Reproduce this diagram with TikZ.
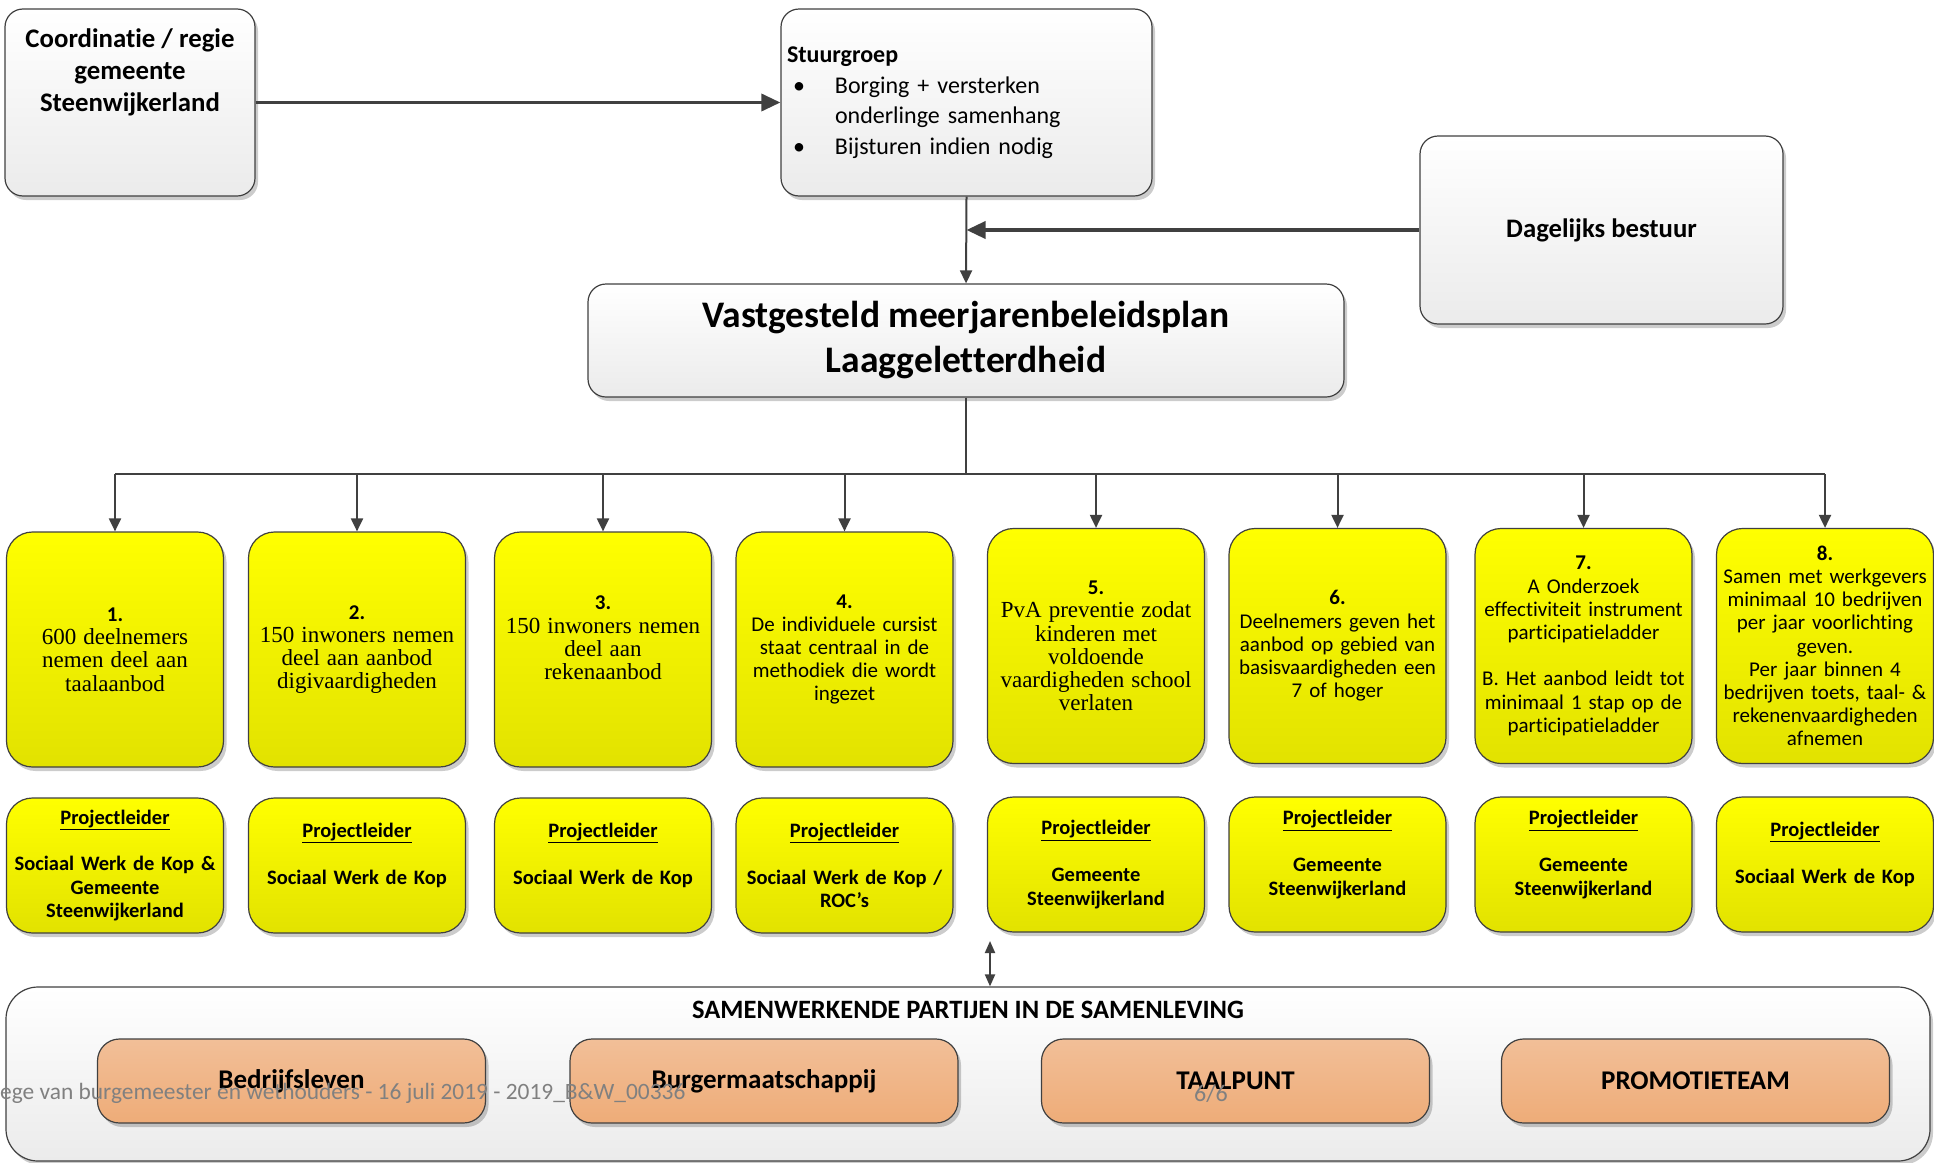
\documentclass[tikz,border=0pt]{standalone}
\usepackage{fontspec}
\setmainfont{Carlito}[Ligatures=NoCommon]
\newfontfamily\timesfont{Liberation Serif}
\usetikzlibrary{arrows.meta}
\usetikzlibrary{shadows}
\definecolor{edge}{HTML}{404040}
\definecolor{paleBot}{HTML}{EBEBEB}
\definecolor{yelTop}{HTML}{FFFF00}
\definecolor{yelBot}{HTML}{E2E200}
\definecolor{orTop}{HTML}{F2BF98}
\definecolor{orBot}{HTML}{EEAC78}
\newcommand{\serif}[1]{{\timesfont\fontsize{23}{23.3}\selectfont #1}}
\tikzstyle{softshadow}=[drop shadow={opacity=0.2,fill=black,shadow xshift=3pt,shadow yshift=-4pt}]
\tikzstyle{panel}=[draw=edge, line width=1.2pt, rounded corners=18pt, top color=white, bottom color=paleBot, softshadow, align=center, inner sep=0pt]
\tikzstyle{goal}=[panel, rounded corners=26pt, top color=yelTop, bottom color=yelBot, minimum width=217pt, minimum height=235pt, text width=205pt, font=\fontsize{21}{23.2}\selectfont]
\tikzstyle{lead}=[goal, minimum height=135pt, font=\bfseries\fontsize{20.5}{23.4}\selectfont]
\tikzstyle{party}=[panel, rounded corners=22pt, top color=orTop, bottom color=orBot, minimum width=388pt, minimum height=84pt, font=\bfseries\fontsize{27}{30}\selectfont]
\tikzstyle{link}=[draw=edge, line width=2pt, -{Triangle[length=13pt,width=12pt]}]
\tikzstyle{heavy}=[link, line width=3.5pt, -{Triangle[length=19pt,width=17pt]}]
\tikzstyle{both}=[link, {Triangle[length=12pt,width=10pt]}-{Triangle[length=12pt,width=10pt]}]
\tikzstyle{busline}=[draw=edge, line width=2.5pt]

\begin{document}
\begin{tikzpicture}[x=1pt, y=-1pt]
  \useasboundingbox (0,0) rectangle (1934,1162);

  \node[panel, minimum width=250pt, minimum height=187pt, font=\bfseries\fontsize{26.8}{32}\selectfont]
    (regie) at (130,102.5) {Coordinatie / regie\\gemeente\\Steenwijkerland\\\mbox{}\\\mbox{}};
  \node[panel, minimum width=371pt, minimum height=187pt, text width=359pt, align=left, font=\fontsize{24}{30.5}\selectfont]
    (stuur) at (966.5,102.5) {\textbf{Stuurgroep}\\
      \hspace*{6pt}\makebox[42pt][l]{\textbullet}Borging + versterken\\
      \hspace*{48pt}onderlinge samenhang\\
      \hspace*{6pt}\makebox[42pt][l]{\textbullet}Bijsturen indien nodig};
  \node[panel, minimum width=363pt, minimum height=188pt, font=\bfseries\fontsize{26.7}{30}\selectfont]
    (bestuur) at (1601.5,230) {Dagelijks bestuur};
  \node[panel, minimum width=756pt, minimum height=113pt, font=\bfseries\fontsize{37.5}{45}\selectfont]
    (plan) at (966,340.5) {Vastgesteld meerjarenbeleidsplan\\Laaggeletterdheid};

  \node[goal] (goal1) at (115,649.5) {\textbf{1.}\\\serif{600 deelnemers\\nemen deel aan\\taalaanbod}};
  \node[goal] (goal2) at (357,649.5) {\textbf{2.}\\\serif{150 inwoners nemen\\deel aan aanbod\\digivaardigheden}};
  \node[goal] (goal3) at (603,649.5) {\textbf{3.}\\\serif{150 inwoners nemen\\deel aan\\rekenaanbod}\\\mbox{}};
  \node[goal] (goal4) at (844.5,649.5) {\textbf{4.}\\De individuele cursist\\staat centraal in de\\methodiek die wordt\\ingezet};
  \node[goal] (goal5) at (1096,646) {\textbf{5.}\\\serif{PvA preventie zodat\\kinderen met\\voldoende\\vaardigheden school\\verlaten}};
  \node[goal] (goal6) at (1337.5,646) {\textbf{6.}\\Deelnemers geven het\\aanbod op gebied van\\basisvaardigheden een\\7 of hoger};
  \node[goal] (goal7) at (1583.5,646) {\textbf{7.}\\A Onderzoek\\effectiviteit instrument\\participatieladder\\\mbox{}\\B. Het aanbod leidt tot\\minimaal 1 stap op de\\participatieladder};
  \node[goal] (goal8) at (1825,646) {\textbf{8.}\\Samen met werkgevers\\minimaal 10 bedrijven\\per jaar voorlichting\\geven.\\Per jaar binnen 4\\bedrijven toets, taal- \&\\rekenenvaardigheden\\afnemen};

  \node[lead] (lead1) at (115,865.5) {\underline{Projectleider}\\\mbox{}\\Sociaal Werk de Kop \&\\Gemeente\\Steenwijkerland};
  \node[lead] (lead2) at (357,865.5) {\underline{Projectleider}\\\mbox{}\\Sociaal Werk de Kop\\\mbox{}};
  \node[lead] (lead3) at (603,865.5) {\underline{Projectleider}\\\mbox{}\\Sociaal Werk de Kop\\\mbox{}};
  \node[lead] (lead4) at (844.5,865.5) {\underline{Projectleider}\\\mbox{}\\Sociaal Werk de Kop /\\ROC’s};
  \node[lead] (lead5) at (1096,864.5) {\underline{Projectleider}\\\mbox{}\\Gemeente\\Steenwijkerland};
  \node[lead] (lead6) at (1337.5,864.5) {\underline{Projectleider}\\\mbox{}\\Gemeente\\Steenwijkerland\\\mbox{}};
  \node[lead] (lead7) at (1583.5,864.5) {\underline{Projectleider}\\\mbox{}\\Gemeente\\Steenwijkerland\\\mbox{}};
  \node[lead] (lead8) at (1825,864.5) {\underline{Projectleider}\\\mbox{}\\Sociaal Werk de Kop\\\mbox{}};

  \node[panel, rounded corners=32pt, minimum width=1924pt, minimum height=174pt] (partijen) at (968,1074) {};
  \node[font=\bfseries\fontsize{26.5}{30}\selectfont] (titel) at (968,1010) {SAMENWERKENDE PARTIJEN IN DE SAMENLEVING};
  \node[party] (bedrijf) at (291.5,1081) {Bedrijfsleven};
  \node[party] (burger) at (764,1081) {Burgermaatschappij};
  \node[party] (taal) at (1235.5,1081) {TAALPUNT};
  \node[party] (promo) at (1695.5,1081) {PROMOTIETEAM};

  \draw[heavy] (regie.east) -- (stuur.west);
  \draw[link] (stuur.south) -- (plan.north);
  \draw[heavy] (bestuur.west) -- (bestuur.west -| stuur.south);
  \coordinate (bus) at (966,474);
  \draw[busline] (plan.south) -- (bus);
  \draw[busline] (bus -| goal1.north) -- (bus -| goal8.north);
  \foreach \i in {1,...,8}
    \draw[link] (bus -| goal\i.north) -- (goal\i.north);
  \coordinate (meet) at (990,941);
  \draw[both] (partijen.north -| meet) -- (meet);

  \node[anchor=west, inner sep=0pt, text=gray, font=\fontsize{23.4}{26}\selectfont]
    (voet) at (0,1093) {ege van burgemeester en wethouders - 16 juli 2019 - 2019\_B\&W\_00336};
  \node[inner sep=0pt, text=gray, font=\fontsize{24}{28}\selectfont] (pagina) at (1211,1094) {6/6};
\end{tikzpicture}
\end{document}
